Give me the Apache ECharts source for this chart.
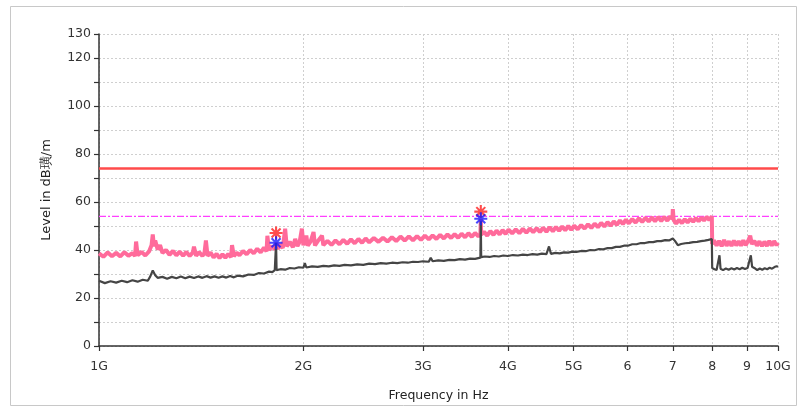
<!DOCTYPE html>
<html>
<head>
<meta charset="utf-8">
<script src="https://cdn.jsdelivr.net/npm/echarts@6/dist/echarts.min.js"></script>
<style>
html,body{margin:0;padding:0;background:#fff;}
#c{width:798px;height:407px;}
</style>
</head>
<body>
<div id="c"></div>
<script>
// Frequency in GHz, level in dB
const xTicks = [1, 2, 3, 4, 5, 6, 7, 8, 9, 10];
const xTickLabels = ['1G', '2G', '3G', '4G', '5G', '6', '7', '8', '9', '10G'];
const yLabelValues = [0, 20, 40, 60, 80, 100, 120, 130];
const limitLine = 74;
const avgLimitLine = 54;

const pinkTrace = [
[1.00,38.6],[1.015,37.2],[1.03,39.0],[1.045,37.4],[1.06,38.8],[1.075,37.3],[1.09,39.1],[1.105,37.6],[1.12,38.7],[1.13,37.5],
[1.134,43.5],[1.14,37.8],[1.155,39.2],[1.17,37.7],[1.185,39.4],[1.195,42.0],[1.20,46.5],[1.205,41.5],[1.21,44.0],[1.22,40.2],
[1.23,42.0],[1.24,38.8],[1.255,40.0],[1.27,38.0],[1.285,39.6],[1.30,37.8],[1.315,39.3],[1.33,37.6],[1.345,39.2],[1.36,37.5],
[1.375,39.0],[1.38,41.4],[1.39,37.6],[1.405,39.1],[1.42,37.5],[1.43,38.8],[1.437,44.0],[1.445,37.6],[1.46,38.9],[1.475,36.9],
[1.49,38.4],[1.505,36.6],[1.52,38.2],[1.535,36.8],[1.55,38.4],[1.565,37.0],[1.57,42.0],[1.58,37.4],[1.595,38.9],[1.61,37.8],
[1.63,39.6],[1.65,38.2],[1.67,40.0],[1.69,38.6],[1.71,40.5],[1.73,39.0],[1.75,41.0],[1.765,39.4],[1.77,45.9],[1.78,40.0],
[1.80,41.6],[1.815,40.2],[1.823,43.0],[1.835,40.5],[1.85,42.4],[1.865,40.8],[1.88,48.9],[1.89,41.5],[1.91,43.4],[1.93,41.2],
[1.945,44.6],[1.96,41.6],[1.975,43.5],[1.99,48.9],[2.00,42.0],[2.02,46.0],[2.03,41.8],[2.05,43.6],[2.07,47.5],[2.08,41.9],
[2.10,43.7],[2.13,46.0],[2.14,42.0],[2.17,43.8],[2.20,42.1],[2.23,44.0],[2.26,42.4],[2.29,44.2],[2.32,42.6],[2.35,44.4],
[2.38,42.8],[2.41,44.6],[2.44,43.0],[2.47,44.8],[2.50,43.2],[2.54,45.0],[2.58,43.4],[2.62,45.1],[2.66,43.5],[2.70,45.3],
[2.74,43.7],[2.78,45.6],[2.82,43.9],[2.86,45.7],[2.90,44.0],[2.94,45.8],[2.98,44.2],[3.02,46.0],[3.06,44.4],[3.10,46.1],
[3.14,44.6],[3.18,46.3],[3.22,44.8],[3.26,46.5],[3.30,45.0],[3.34,46.6],[3.38,45.1],[3.42,46.8],[3.46,45.3],[3.50,47.0],
[3.54,45.5],[3.58,47.1],[3.62,45.7],[3.645,46.5],[3.65,53.0],[3.655,46.4],[3.69,47.6],[3.73,46.0],[3.77,47.9],[3.81,46.3],
[3.85,48.1],[3.89,46.5],[3.93,48.3],[3.97,46.7],[4.01,48.5],[4.06,46.9],[4.11,48.6],[4.16,47.0],[4.21,48.8],[4.26,47.2],
[4.31,49.0],[4.36,47.4],[4.41,49.1],[4.46,47.5],[4.51,49.3],[4.56,47.6],[4.61,49.5],[4.66,47.8],[4.71,49.6],[4.76,48.0],
[4.81,49.8],[4.86,48.2],[4.91,50.0],[4.96,48.4],[5.01,50.1],[5.07,48.6],[5.13,50.4],[5.19,48.9],[5.25,50.7],[5.31,49.2],
[5.37,51.0],[5.43,49.5],[5.49,51.3],[5.55,49.8],[5.61,51.6],[5.67,50.1],[5.73,51.9],[5.79,50.5],[5.85,52.3],[5.91,50.8],
[5.97,52.6],[6.03,51.1],[6.10,52.9],[6.17,51.4],[6.24,53.2],[6.31,51.7],[6.38,53.4],[6.45,51.9],[6.52,53.6],[6.59,52.0],
[6.66,53.7],[6.73,52.1],[6.80,53.8],[6.87,52.2],[6.94,54.0],[6.99,53.0],[7.00,57.0],[7.02,52.5],[7.08,51.0],[7.15,52.6],
[7.22,51.2],[7.29,52.8],[7.36,51.5],[7.43,53.0],[7.50,51.8],[7.57,53.3],[7.64,52.0],[7.71,53.5],[7.78,52.3],[7.85,53.8],
[7.92,52.5],[7.99,54.0],[8.00,42.5],[8.05,44.0],[8.12,41.8],[8.19,43.8],[8.26,41.6],[8.33,44.2],[8.40,41.8],[8.47,43.6],
[8.54,41.7],[8.61,43.9],[8.68,41.9],[8.75,43.7],[8.82,41.8],[8.89,44.0],[8.96,42.0],[9.05,44.2],[9.10,46.0],[9.15,42.5],
[9.23,43.8],[9.31,41.8],[9.39,43.6],[9.47,41.6],[9.55,43.5],[9.63,41.7],[9.71,43.8],[9.79,41.9],[9.87,43.7],[9.95,42.0],
[10.00,43.0]
];

const greyTrace = [
[1.00,27.2],[1.02,26.2],[1.04,27.0],[1.06,26.4],[1.08,27.2],[1.10,26.6],[1.12,27.4],[1.14,26.8],[1.16,27.6],[1.18,27.2],
[1.19,29.0],[1.20,31.5],[1.21,29.5],[1.22,28.4],[1.24,28.8],[1.26,28.0],[1.28,28.8],[1.30,28.2],[1.32,29.0],[1.34,28.2],
[1.36,28.9],[1.38,28.3],[1.40,29.0],[1.42,28.4],[1.44,29.1],[1.46,28.5],[1.48,29.0],[1.50,28.4],[1.52,29.0],[1.54,28.5],
[1.56,29.2],[1.58,28.6],[1.60,29.3],[1.63,29.0],[1.66,29.8],[1.69,29.6],[1.72,30.4],[1.75,30.2],[1.78,31.0],[1.80,30.8],
[1.815,31.6],[1.82,31.4],[1.823,43.0],[1.826,31.6],[1.85,32.0],[1.88,31.8],[1.91,32.5],[1.94,32.3],[1.97,32.8],[2.00,32.6],
[2.01,34.5],[2.02,32.7],[2.06,33.2],[2.10,33.0],[2.14,33.4],[2.18,33.2],[2.22,33.6],[2.26,33.4],[2.30,33.8],[2.35,33.6],
[2.40,34.0],[2.45,33.8],[2.50,34.3],[2.55,34.1],[2.60,34.5],[2.65,34.3],[2.70,34.7],[2.75,34.5],[2.80,34.9],[2.85,34.7],
[2.90,35.1],[2.95,35.0],[3.00,35.3],[3.06,35.1],[3.08,36.8],[3.10,35.3],[3.16,35.7],[3.22,35.5],[3.28,35.9],[3.34,35.8],
[3.40,36.2],[3.46,36.0],[3.52,36.4],[3.58,36.3],[3.645,36.8],[3.65,52.0],[3.655,37.0],[3.70,37.3],[3.76,37.1],[3.82,37.5],
[3.88,37.3],[3.94,37.7],[4.00,37.5],[4.07,37.9],[4.14,37.7],[4.21,38.1],[4.28,37.9],[4.35,38.3],[4.42,38.1],[4.49,38.5],
[4.56,38.3],[4.60,41.5],[4.63,38.4],[4.70,38.8],[4.77,38.6],[4.84,39.0],[4.91,38.9],[4.98,39.3],[5.05,39.2],[5.13,39.6],
[5.21,39.5],[5.29,40.0],[5.37,39.9],[5.45,40.4],[5.53,40.3],[5.61,40.8],[5.69,40.8],[5.77,41.3],[5.85,41.3],[5.93,41.8],
[6.01,41.8],[6.10,42.4],[6.19,42.4],[6.28,42.9],[6.37,42.9],[6.46,43.3],[6.55,43.3],[6.64,43.7],[6.73,43.7],[6.82,44.1],
[6.91,44.0],[7.00,44.8],[7.05,43.8],[7.12,42.0],[7.20,42.5],[7.30,42.8],[7.40,43.0],[7.50,43.3],[7.60,43.4],[7.70,43.7],
[7.80,43.9],[7.90,44.2],[7.99,44.6],[8.00,32.5],[8.06,32.0],[8.12,31.7],[8.17,32.3],[8.20,37.8],[8.23,32.2],[8.30,31.6],
[8.38,32.3],[8.46,31.8],[8.54,32.4],[8.62,31.9],[8.70,32.5],[8.78,32.0],[8.86,32.6],[8.94,32.1],[9.02,32.5],[9.08,33.0],
[9.12,37.8],[9.16,33.0],[9.24,32.4],[9.32,31.6],[9.40,32.3],[9.48,31.8],[9.56,32.4],[9.64,32.0],[9.72,32.6],[9.80,32.2],
[9.88,32.9],[9.95,33.2],[10.00,33.0]
];

const redMarkers = [[1.823, 47.1], [3.65, 56.0]];
const blueMarkers = [[1.823, 43.0], [3.65, 53.0]];

const star = 'path://M0,4.2L10,4.2L10,5.8L0,5.8Z M4.2,0L5.8,0L5.8,10L4.2,10Z M1,2.1L2.1,1L9,7.9L7.9,9Z M7.9,1L9,2.1L2.1,9L1,7.9Z';
const font = 'DejaVu Sans';

const chart = echarts.init(document.getElementById('c'), null, {renderer: 'canvas'});
chart.setOption({
  animation: false,
  backgroundColor: '#fff',
  graphic: [{
    type: 'rect', silent: true, z: -10,
    shape: {x: 10.5, y: 6.5, width: 786, height: 399},
    style: {fill: 'none', stroke: '#c8c8c8', lineWidth: 1}
  }],
  grid: {left: 99, right: 20, top: 34, bottom: 59, containLabel: false},
  xAxis: {
    type: 'log', logBase: 10, min: 1, max: 10,
    name: 'Frequency in Hz', nameLocation: 'middle', nameGap: 43,
    nameTextStyle: {fontFamily: font, fontSize: 12.5, color: '#222'},
    axisLine: {show: true, lineStyle: {color: '#333', width: 1.5}},
    axisTick: {show: true, length: 5, customValues: xTicks, lineStyle: {color: '#333', width: 1.2}},
    minorTick: {show: false},
    axisLabel: {
      customValues: xTicks, margin: 14, fontFamily: font, fontSize: 12.5, color: '#333',
      formatter: function (v) { const i = xTicks.findIndex(t => Math.abs(t - v) < 1e-6); return i >= 0 ? xTickLabels[i] : ''; }
    },
    splitLine: {show: true, lineStyle: {color: '#cfcfcf', type: [2, 2], width: 1}}
  },
  yAxis: {
    type: 'value', min: 0, max: 130, interval: 10,
    name: 'Level in dB璜/m', nameLocation: 'middle', nameGap: 46,
    nameTextStyle: {fontFamily: font, fontSize: 13, color: '#222'},
    axisLine: {show: true, lineStyle: {color: '#333', width: 1.5}},
    axisTick: {show: true, length: 5, lineStyle: {color: '#333', width: 1.2}},
    axisLabel: {
      margin: 8, fontFamily: font, fontSize: 12.5, color: '#333',
      formatter: function (v) { return yLabelValues.indexOf(v) >= 0 ? String(v) : ''; }
    },
    splitLine: {show: true, lineStyle: {color: '#cfcfcf', type: [2, 2], width: 1}}
  },
  series: [
    {type: 'line', data: [[1, limitLine], [10, limitLine]], symbol: 'none', silent: true,
     lineStyle: {color: '#ff4a4a', width: 2.5}, z: 3},
    {type: 'line', data: [[1, avgLimitLine], [10, avgLimitLine]], symbol: 'none', silent: true,
     itemStyle: {color: '#ff40ff'},
     lineStyle: {color: '#ff40ff', width: 1.3, type: [7, 2, 2, 2], opacity: 1}, z: 3},
    {type: 'line', data: pinkTrace, symbol: 'none', silent: true,
     lineStyle: {color: '#ff6b9b', width: 4, join: 'bevel'}, z: 4},
    {type: 'line', data: greyTrace, symbol: 'none', silent: true,
     lineStyle: {color: '#454545', width: 2.2}, z: 5},
    {type: 'scatter', data: redMarkers, symbol: star, symbolSize: 13, silent: true,
     itemStyle: {color: '#ff2020'}, z: 6},
    {type: 'scatter', data: blueMarkers, symbol: star, symbolSize: 13, silent: true,
     itemStyle: {color: '#1a1aff'}, z: 6}
  ]
});
</script>
</body>
</html>
